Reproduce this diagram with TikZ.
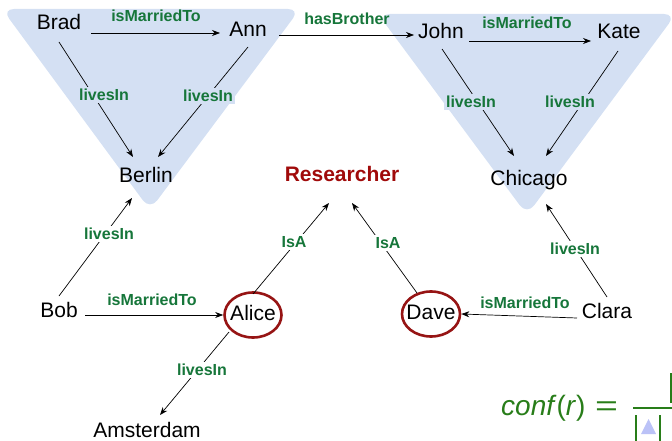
\documentclass[tikz,border=0pt]{standalone}
\usepackage{fontspec}
\usepackage{graphicx}
\setmainfont{Liberation Sans}
\usetikzlibrary{arrows.meta,calc,shapes.geometric}
\definecolor{tri}{RGB}{212,224,243}
\definecolor{lgreen}{RGB}{22,118,58}
\definecolor{fgreen}{RGB}{40,125,25}
\definecolor{dred}{RGB}{160,10,10}
\definecolor{ered}{RGB}{150,20,20}
\begin{document}
\begin{tikzpicture}[x=1pt,y=-1pt,
 ent/.style={inner sep=0pt, text height=15pt, text depth=4pt, font=\fontsize{21}{24}\selectfont},
 circled/.style={ellipse, draw=ered, line width=2.6pt, inner sep=-4pt, minimum width=57pt, minimum height=45pt},
 lab/.style={inner sep=2pt, text height=11.5pt, text depth=0pt, font=\fontsize{16}{19}\selectfont\bfseries, text=lgreen},
 arr/.style={-{Stealth[length=8pt,width=6pt]}, line width=0.7pt},
 fbar/.style={draw=fgreen, line width=1.4pt}
 ]
\path[use as bounding box] (0,0) rectangle (672,441);
\clip (0,0) rectangle (672,441);

% background triangles
\fill[tri, rounded corners=12pt] (2,9) -- (300,9) -- (150,210) -- cycle;
\fill[tri, rounded corners=12pt] (378,14) -- (676,14) -- (527,215) -- cycle;

% entities
\node[ent] (Brad) at (59,24) {Brad};
\node[ent] (Ann) at (248,31) {Ann};
\node[ent] (Berlin) at (146,177) {Berlin};
\node[ent] (John) at (441,33) {John};
\node[ent] (Kate) at (619,33) {Kate};
\node[ent] (Chicago) at (529,180) {Chicago};
\node[ent, font=\fontsize{21}{24}\selectfont\bfseries, text=dred] (Researcher) at (342,176) {Researcher};
\node[ent] (Bob) at (59,312) {Bob};
\node[ent, circled] (Alice) at (253,315) {Alice};
\node[ent, circled] (Dave) at (431,314) {Dave};
\node[ent] (Clara) at (607,313) {Clara};
\node[ent] (Amsterdam) at (147,432) {Amsterdam};

% connectors
\draw[arr] ($(Brad)+(32,9)$) -- ($(Ann)+(-28,2)$);
\draw[arr] ($(Ann)+(31,4)$) -- ($(John)+(-27,2)$);
\draw[arr] ($(John)+(28,8)$) -- ($(Kate)+(-28,8)$);
\draw[arr] ($(Brad)+(0,18)$) -- ($(Berlin)+(-13,-20)$);
\draw[arr] ($(Ann)+(0,16)$) -- ($(Berlin)+(12,-20)$);
\draw[arr] ($(John)+(1,16)$) -- ($(Chicago)+(-15,-24)$);
\draw[arr] ($(Kate)+(-1,18)$) -- ($(Chicago)+(17,-24)$);
\draw[arr] ($(Bob)+(0,-16)$) -- ($(Berlin)+(-14,21)$);
\draw[arr] ($(Bob)+(26,3)$) -- (Alice.west);
\draw[arr] ($(Alice)+(0,-21)$) -- ($(Researcher)+(-13,27)$);
\draw[arr] ($(Dave)+(-14,-21)$) -- ($(Researcher)+(10,27)$);
\draw[arr] ($(Clara)+(-30,5)$) -- (Dave.east);
\draw[arr] ($(Clara)+(0,-16)$) -- ($(Chicago)+(17,24)$);
\draw[arr] ($(Alice)+(-24,17)$) -- ($(Amsterdam)+(13,-17)$);

% labels
\node[lab] (l1) at (156,16) {isMarriedTo};
\node[lab] (l2) at (347,19) {hasBrother};
\node[lab] (l3) at (527,23) {isMarriedTo};
\node[lab, fill=tri] (l4) at (104,95) {livesIn};
\node[lab, fill=tri] (l5) at (208,96) {livesIn};
\node[lab, fill=tri] (l6) at (471,102) {livesIn};
\node[lab, fill=tri] (l7) at (570,102) {livesIn};
\node[lab, fill=white] (l8) at (109,234) {livesIn};
\node[lab, fill=white] (l9) at (294,242) {IsA};
\node[lab, fill=white] (l10) at (388,243) {IsA};
\node[lab, fill=white] (l11) at (575,249) {livesIn};
\node[lab] (l12) at (152,300) {isMarriedTo};
\node[lab] (l13) at (525,303) {isMarriedTo};
\node[lab, fill=white] (l14) at (202,370) {livesIn};

% formula
\node[anchor=base west, inner sep=0pt, text=fgreen, font=\fontsize{28}{32}\selectfont] (conf) at (501,415) {\textit{conf}(\textit{r})};
\node[anchor=base west, inner sep=0pt, text=fgreen, font=\fontsize{28}{32}\selectfont] (eq) at (595,415) {\scalebox{1.4}[1]{=}};
\draw[fbar] (633,408) -- (680,408);
\draw[fbar] (636,415) -- (636,445);
\draw[fbar] (660,415) -- (660,445);
\fill[tri!80!blue!80!white] (641,434) -- (656,434) -- (648.5,419) -- cycle;
\draw[fbar] (671,373) -- (671,403);
\end{tikzpicture}
\end{document}
